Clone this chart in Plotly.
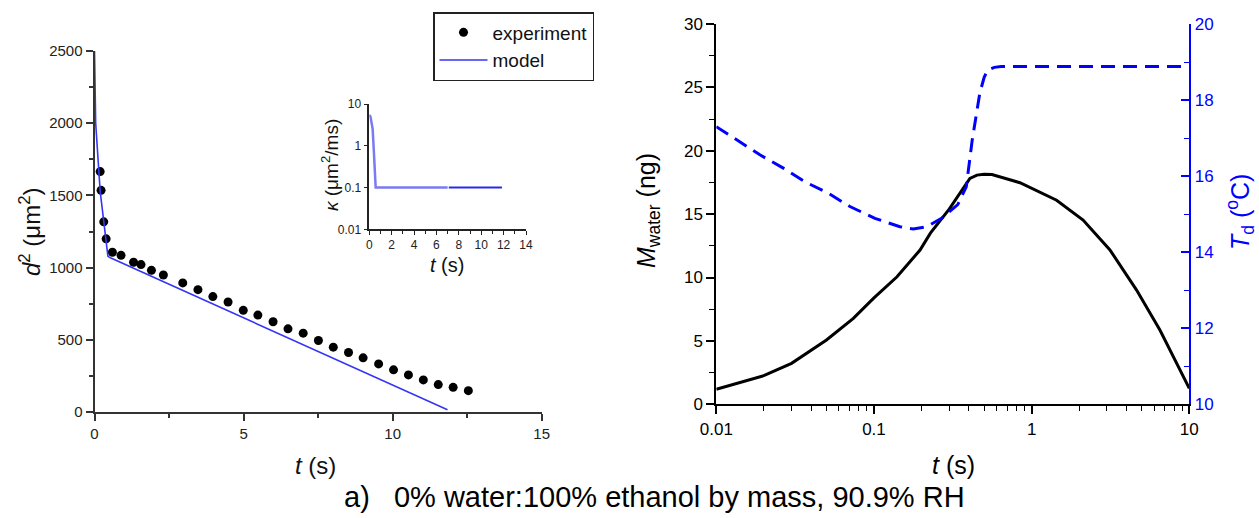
import plotly.graph_objects as go

W, H = 1259, 518

# ---------------- data ----------------
# left panel: d^2 vs t
exp_t = [0.19, 0.22, 0.31, 0.39, 0.60, 0.89, 1.31, 1.56, 1.91, 2.31, 2.96, 3.47, 3.97, 4.48, 4.99,
         5.48, 5.99, 6.49, 7.00, 7.51, 8.01, 8.52, 9.01, 9.53, 10.03, 10.53, 11.03, 11.53, 12.03, 12.54]
exp_d2 = [1665, 1535, 1317, 1199, 1106, 1085, 1037, 1021, 981, 949, 894, 847, 799, 762, 704,
          671, 625, 576, 546, 495, 449, 412, 375, 333, 292, 257, 222, 190, 171, 148]
model_t = [0, 0.04, 0.19, 0.30, 0.38, 0.45, 0.55, 11.84]
model_d2 = [2500, 2000, 1530, 1330, 1180, 1078, 1066, 15]

# inset: kappa vs t
kap_t1 = [0, 0.1, 0.2, 0.3, 0.4, 0.5, 0.57, 1, 3, 5, 7]
kap_v1 = [5.5, 5.0, 3.6, 2.5, 0.8, 0.2, 0.1, 0.1, 0.1, 0.1, 0.1]
kap_t2 = [7.1, 11.85]
kap_v2 = [0.1, 0.1]

# right panel: M_water and T_d vs t (log)
m_t = [0.01, 0.02, 0.03, 0.05, 0.074, 0.1, 0.14, 0.196, 0.228, 0.30, 0.406, 0.45, 0.50, 0.56,
       0.843, 1.44, 2.12, 3.13, 4.63, 6.51, 10]
m_v = [1.18, 2.26, 3.23, 5.07, 6.78, 8.4, 10.06, 12.17, 13.5, 15.4, 17.82, 18.08, 18.14, 18.12,
       17.48, 16.1, 14.53, 12.2, 9.01, 5.86, 1.26]
td_t = [0.01, 0.0135, 0.0189, 0.0266, 0.0365, 0.0513, 0.0704, 0.1014, 0.146, 0.1775, 0.2164,
        0.27, 0.34, 0.385, 0.42, 0.469, 0.50, 0.527, 0.58, 0.64, 1, 10]
td_v = [17.30, 16.95, 16.56, 16.21, 15.85, 15.55, 15.20, 14.89, 14.67, 14.61, 14.67,
        14.9, 15.25, 15.72, 16.95, 18.18, 18.6, 18.79, 18.86, 18.88, 18.88, 18.88]

caption = "a)   0% water:100% ethanol by mass, 90.9% RH"

# ---------------- helpers ----------------
def fx(px):
    return px / W

def fy(py):
    return 1 - py / H

FONT = "Liberation Sans, Arial, sans-serif"
BLUE = "#0000ff"

fig = go.Figure()

# left panel traces
fig.add_trace(go.Scatter(x=exp_t, y=exp_d2, mode="markers", name="experiment",
                         marker=dict(color="black", size=9), xaxis="x", yaxis="y"))
fig.add_trace(go.Scatter(x=model_t, y=model_d2, mode="lines", name="model",
                         line=dict(color="#3535f5", width=1.6), xaxis="x", yaxis="y"))
# inset traces
fig.add_trace(go.Scatter(x=kap_t1, y=kap_v1, mode="lines", showlegend=False,
                         line=dict(color="#7a7af2", width=2.5), xaxis="x2", yaxis="y2"))
fig.add_trace(go.Scatter(x=kap_t2, y=kap_v2, mode="lines", showlegend=False,
                         line=dict(color="#2a2ae6", width=2), xaxis="x2", yaxis="y2"))
# right panel traces
fig.add_trace(go.Scatter(x=m_t, y=m_v, mode="lines", showlegend=False,
                         line=dict(color="black", width=3), xaxis="x3", yaxis="y3"))
fig.add_trace(go.Scatter(x=td_t, y=td_v, mode="lines", showlegend=False,
                         line=dict(color=BLUE, width=3, dash="14px,8px"), xaxis="x3", yaxis="y4"))

axcommon = dict(showgrid=False, zeroline=False, showline=True, mirror=False, automargin=False)

fig.update_layout(
    width=W, height=H,
    margin=dict(l=0, r=0, t=0, b=0, autoexpand=False),
    paper_bgcolor="white", plot_bgcolor="rgba(0,0,0,0)",
    font=dict(family=FONT, color="black"),
    showlegend=True,
    legend=dict(x=fx(433), y=fy(12), xanchor="left", yanchor="top",
                bordercolor="#222", borderwidth=1.5, bgcolor="white",
                font=dict(size=19, family=FONT, color="#111"), itemwidth=48,
                tracegroupgap=0),
    # left main
    xaxis=dict(**axcommon, domain=[fx(94.5), fx(541.7)], range=[0, 15], anchor="y",
               tickvals=[0, 5, 10, 15], ticks="outside", ticklen=7, tickwidth=1.5,
               linecolor="#333", linewidth=2, tickcolor="#333",
               tickfont=dict(size=15, color="#222"),
               minor=dict(ticks="outside", ticklen=4, tickwidth=1.5, tickcolor="#333",
                          tickvals=[2.5, 7.5, 12.5])),
    yaxis=dict(**axcommon, domain=[fy(412), fy(51)], range=[0, 2500], anchor="x",
               tickvals=[0, 500, 1000, 1500, 2000, 2500], ticks="outside", ticklen=7,
               tickwidth=1.5, linecolor="#333", linewidth=2, tickcolor="#333",
               tickfont=dict(size=15, color="#222"),
               minor=dict(ticks="outside", ticklen=4, tickwidth=1.5, tickcolor="#333",
                          tickvals=[250, 750, 1250, 1750, 2250])),
    # inset
    xaxis2=dict(**axcommon, domain=[fx(369.3), fx(526)], range=[0, 14], anchor="y2",
                tickvals=[0, 2, 4, 6, 8, 10, 12, 14], ticks="outside", ticklen=4,
                tickwidth=1.2, linecolor="#222", linewidth=1.5, tickcolor="#222",
                tickfont=dict(size=12, color="#222"),
                minor=dict(ticks="outside", ticklen=2.5, tickwidth=1, tickcolor="#222",
                           tickvals=[1, 3, 5, 7, 9, 11, 13])),
    yaxis2=dict(**axcommon, domain=[fy(229.3), fy(104)], type="log", range=[-2, 1],
                anchor="x2", tickvals=[0.01, 0.1, 1, 10], ticktext=["0.01", "0.1", "1", "10"],
                ticks="outside", ticklen=4, tickwidth=1.2, linecolor="#222", linewidth=1.5,
                tickcolor="#222", tickfont=dict(size=12, color="#222")),
    # right main
    xaxis3=dict(**axcommon, domain=[fx(716.3), fx(1189.3)], type="log", range=[-2, 1],
                anchor="y3", tickvals=[0.01, 0.1, 1, 10], ticktext=["0.01", "0.1", "1", "10"],
                ticks="outside", ticklen=8, tickwidth=1.5, linecolor="black", linewidth=2,
                tickcolor="black", tickfont=dict(size=17, color="black"),
                minor=dict(ticks="outside", ticklen=5, tickwidth=1.2, tickcolor="black",
                           dtick="D1")),
    yaxis3=dict(**axcommon, domain=[fy(404.3), fy(24)], range=[0, 30], anchor="x3",
                tickvals=[0, 5, 10, 15, 20, 25, 30], ticks="outside", ticklen=8, tickwidth=1.5,
                linecolor="black", linewidth=2, tickcolor="black",
                tickfont=dict(size=17, color="black"),
                minor=dict(ticks="outside", ticklen=5, tickwidth=1.2, tickcolor="black",
                           tickvals=[2.5, 7.5, 12.5, 17.5, 22.5, 27.5])),
    yaxis4=dict(**axcommon, domain=[fy(404.3), fy(24)], range=[10, 20], anchor="x3",
                overlaying="y3", side="right",
                tickvals=[10, 12, 14, 16, 18, 20], ticks="inside", ticklen=8, tickwidth=1.5,
                linecolor=BLUE, linewidth=2, tickcolor=BLUE,
                tickfont=dict(size=17, color=BLUE),
                minor=dict(ticks="inside", ticklen=5, tickwidth=1.2, tickcolor=BLUE,
                           tickvals=[11, 13, 15, 17, 19])),
)

ann = []
def add_text(text, px, py, size, angle=0, color="black"):
    ann.append(dict(text=text, x=fx(px), y=fy(py), xref="paper", yref="paper",
                    xanchor="center", yanchor="middle", showarrow=False, textangle=angle,
                    font=dict(size=size, color=color, family=FONT)))

add_text("<i>d</i><sup>2</sup> (μm<sup>2</sup>)", 30, 232, 24, -90, "#111")
add_text("<i>t</i> (s)", 315, 465, 24, 0, "#111")
add_text("<i>κ</i> (μm<sup>2</sup>/ms)", 330, 165, 19, -90, "#111")
add_text("<i>t</i> (s)", 447, 265, 20, 0, "#111")
add_text("<i>M</i><sub>water</sub> (ng)", 648, 210, 25, -90)
add_text("<i>T</i><sub>d</sub> (<sup>o</sup>C)", 1240, 212, 25, -90, BLUE)
add_text("<i>t</i> (s)", 953, 465, 25, 0)
add_text(caption, 654, 497, 29, 0)
fig.update_layout(annotations=ann)

fig.write_html("out.html", config={"displayModeBar": False},
               post_script="document.body.style.margin='0px';document.body.style.overflow='hidden';")
